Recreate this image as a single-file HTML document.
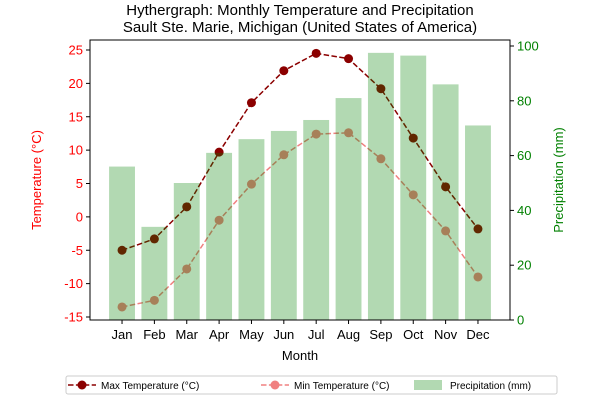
<!DOCTYPE html>
<html><head><meta charset="utf-8"><style>
body{margin:0;background:#fff;font-family:"Liberation Sans",sans-serif}
</style></head><body>
<svg id="c" width="600" height="400" xmlns="http://www.w3.org/2000/svg" font-family="Liberation Sans, sans-serif"></svg>
<script>
const months=["Jan","Feb","Mar","Apr","May","Jun","Jul","Aug","Sep","Oct","Nov","Dec"];
const maxTemp=[-5,-3.3,1.5,9.7,17.1,21.9,24.5,23.7,19.2,11.8,4.5,-1.8];
const minTemp=[-13.5,-12.5,-7.8,-0.5,4.9,9.3,12.4,12.6,8.7,3.3,-2.1,-9];
const precip=[56,34,50,61,66,69,73,81,97.5,96.5,86,71];
const tempTicks=[-15,-10,-5,0,5,10,15,20,25];
const precTicks=[0,20,40,60,80,100];
const NS="http://www.w3.org/2000/svg",svg=document.getElementById('c');
const L=90,R=510,T=40,B=320;
const x=i=>L+(i+0.99)/12.98*(R-L);
const yT=v=>50+(25-v)*6.675;
const yP=v=>B-v*2.74;
function el(t,a,p){const e=document.createElementNS(NS,t);for(const k in a)e.setAttribute(k,a[k]);(p||svg).appendChild(e);return e;}
function tx(s,a){const e=el('text',a);e.textContent=s;return e;}
let t=tx("Hythergraph: Monthly Temperature and Precipitation",{x:300,y:15,'text-anchor':'middle','font-size':15});

t=tx("Sault Ste. Marie, Michigan (United States of America)",{x:300,y:32,'text-anchor':'middle','font-size':15});

function series(arr,color,name){
  const g=el('g',{});
  el('polyline',{points:arr.map((v,i)=>x(i)+','+yT(v)).join(' '),fill:'none',stroke:color,'stroke-width':1.5,'stroke-dasharray':'5.5,2.4'},g);
  arr.forEach((v,i)=>{const c=el('circle',{cx:x(i),cy:yT(v),r:4.5,fill:color},g);
    });
}
series(minTemp,'#f08080','min-temperature-line');
series(maxTemp,'#8b0000','max-temperature-line');
const bw=0.8/12.98*(R-L);
precip.forEach((v,i)=>{const r=el('rect',{x:x(i)-bw/2,y:yP(v),width:bw,height:B-yP(v),fill:'#008000','fill-opacity':0.3});
  });
el('rect',{x:L,y:T,width:R-L,height:B-T,fill:'none',stroke:'#000','stroke-width':1});
tempTicks.forEach(v=>{el('line',{x1:L-4,x2:L,y1:yT(v),y2:yT(v),stroke:'#000'});
  const e=tx(v,{x:L-7,y:yT(v)+4.5,'text-anchor':'end','font-size':13,fill:'red'});
  });
precTicks.forEach(v=>{el('line',{x1:R,x2:R+4,y1:yP(v),y2:yP(v),stroke:'#000'});
  const e=tx(v,{x:R+7,y:yP(v)+4.5,'font-size':13,fill:'green'});
  });
months.forEach((m,i)=>{el('line',{x1:x(i),x2:x(i),y1:B,y2:B+4,stroke:'#000'});
  const e=tx(m,{x:x(i),y:B+19,'text-anchor':'middle','font-size':13});
  });
t=tx("Month",{x:300,y:360,'text-anchor':'middle','font-size':13});

t=tx("Temperature (°C)",{x:0,y:0,'text-anchor':'middle','font-size':13,fill:'red',transform:'translate(41,180) rotate(-90)'});

t=tx("Precipitation (mm)",{x:0,y:0,'text-anchor':'middle','font-size':13,fill:'green',transform:'translate(563,180) rotate(-90)'});

const lg=el('g',{});
el('rect',{x:66,y:376,width:491,height:18,rx:2,fill:'#fff',stroke:'#ccc'},lg);
function lline(x0,c,label){
  const g=el('g',{},lg);
  el('line',{x1:x0,x2:x0+28,y1:385,y2:385,stroke:c,'stroke-width':1.5,'stroke-dasharray':'5.5,2.4'},g);
  el('circle',{cx:x0+14,cy:385,r:4.5,fill:c},g);
  const e=el('text',{x:x0+33,y:389,'font-size':10},g);e.textContent=label;}
lline(68,'#8b0000','Max Temperature (°C)');
lline(261,'#f08080','Min Temperature (°C)');
const g3=el('g',{},lg);
el('rect',{x:414,y:380,width:28,height:10,fill:'#008000','fill-opacity':0.3},g3);
const e3=el('text',{x:450,y:389,'font-size':10},g3);e3.textContent='Precipitation (mm)';
</script>
</body></html>
